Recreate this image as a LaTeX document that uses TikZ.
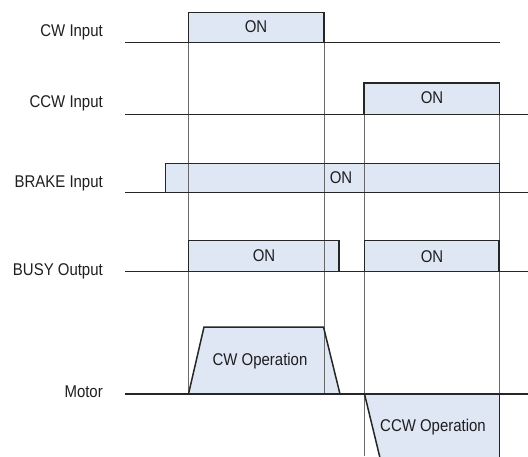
\documentclass[tikz,border=0pt]{standalone}
\usepackage{fontspec}
\setmainfont{Liberation Sans}[FakeStretch=0.88]
\definecolor{fillc}{RGB}{223,231,245}
\definecolor{linec}{RGB}{38,38,38}
\definecolor{guidec}{RGB}{105,105,105}
\definecolor{textc}{RGB}{30,30,30}
\tikzset{
  wave/.style={draw=linec, line width=1.5pt, line join=miter},
  baseln/.style={draw=linec, line width=1.3pt},
  guide/.style={draw=guidec, line width=0.7pt},
  pulsefill/.style={fill=fillc},
  lbl/.style={anchor=east, text=textc, inner sep=0pt, font=\fontsize{17}{20}\selectfont},
  txt/.style={text=textc, inner sep=0pt, font=\fontsize{17}{20}\selectfont}
}
\begin{document}
\begin{tikzpicture}[x=1pt,y=-1pt]
\useasboundingbox (0,0) rectangle (528,456);
\clip (0,0) rectangle (528,456);
% fills
\fill[pulsefill] (188.5,12.5) rectangle (324,42.5);
\fill[pulsefill] (364,83) rectangle (499.5,114.5);
\fill[pulsefill] (165.5,163.5) rectangle (499.5,192.5);
\fill[pulsefill] (188.5,240.5) rectangle (339,271.5);
\fill[pulsefill] (364.5,240.5) rectangle (499,271.5);
\fill[pulsefill] (188.5,394) -- (204,327) -- (323.5,327) -- (340,394) -- cycle;
\fill[pulsefill] (364.5,394) -- (381,462) -- (499.5,462) -- (499.5,394) -- cycle;
% guide lines
\draw[guide] (188.5,12.5) -- (188.5,394);
\draw[guide] (324,12.5) -- (324,394);
\draw[guide] (364.5,83) -- (364.5,456);
\draw[guide] (499.5,83) -- (499.5,456);
% CW input
\draw[baseln] (125,42.5) -- (500,42.5);
\draw[wave] (188.5,42.5) -- (188.5,12.5) -- (324,12.5) -- (324,42.5);
% CCW input
\draw[baseln] (125,114.5) -- (528,114.5);
\draw[wave] (364,114.5) -- (364,83) -- (499.5,83) -- (499.5,114.5);
% BRAKE input
\draw[baseln] (125,192.5) -- (528,192.5);
\draw[wave] (165.5,192.5) -- (165.5,163.5) -- (499.5,163.5) -- (499.5,192.5);
% BUSY output
\draw[baseln] (125,271.5) -- (528,271.5);
\draw[wave] (188.5,271.5) -- (188.5,240.5) -- (339,240.5) -- (339,271.5);
\draw[wave] (364.5,271.5) -- (364.5,240.5) -- (499,240.5) -- (499,271.5);
% Motor
\draw[baseln] (125,394) -- (528,394);
\draw[wave] (188.5,394) -- (204,327) -- (323.5,327) -- (340,394);
\draw[wave] (364.5,394) -- (381,462);
\draw[wave] (499.5,394) -- (499.5,462);
% labels
\node[lbl] (lcw) at (103,32) {CW Input};
\node[lbl] (lccw) at (103,103) {CCW Input};
\node[lbl] (lbrake) at (103,183) {BRAKE Input};
\node[lbl] (lbusy) at (103,271) {BUSY Output};
\node[lbl] (lmotor) at (103,392) {Motor};
% texts in pulses
\node[txt] (oncw) at (256,27) {ON};
\node[txt] (onccw) at (432,98) {ON};
\node[txt] (onbrake) at (341,178) {ON};
\node[txt] (onbusya) at (264,256) {ON};
\node[txt] (onbusyb) at (432,257) {ON};
\node[txt] (opcw) at (260,361) {CW Operation};
\node[txt] (opccw) at (433,427) {CCW Operation};
\end{tikzpicture}
\end{document}
